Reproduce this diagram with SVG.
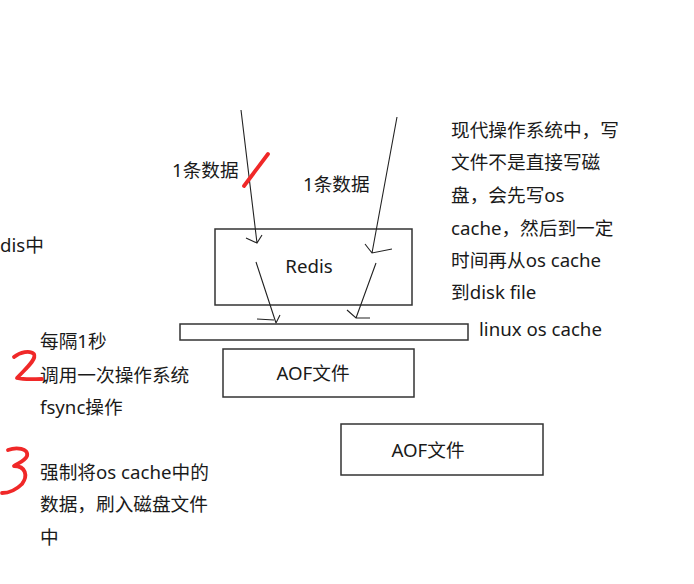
<svg xmlns="http://www.w3.org/2000/svg" width="694" height="584" viewBox="0 0 694 584">
<style>
.t{font-family:"Noto Sans","Noto Sans CJK SC",sans-serif;font-size:18.67px;fill:#1a1a1a}
.box{fill:#fff;stroke:#333;stroke-width:1.5}
.ln{fill:none;stroke:#222;stroke-width:1.1}
.red{fill:none;stroke:#f02828;stroke-width:3.8;stroke-linecap:round;stroke-linejoin:round}
</style>
<rect width="694" height="584" fill="#fff"/>
<g id="redis"><rect class="box" x="215" y="229" width="197" height="76"/><text class="t" x="309" y="273" text-anchor="middle">Redis</text></g>
<g id="oscache"><rect class="box" x="180" y="324" width="288" height="16"/><text class="t" x="479" y="336">linux os cache</text></g>
<g id="aof1"><rect class="box" x="223" y="349" width="191" height="48"/><text class="t" x="313" y="380" text-anchor="middle">AOF文件</text></g>
<g id="aof2"><rect class="box" x="341" y="424" width="202" height="51"/><text class="t" x="428" y="457" text-anchor="middle">AOF文件</text></g>
<g id="connectors">
<path class="ln" d="M241,110 L257,243 M246,238 L257,243 L262,235"/>
<path class="ln" d="M397,117 L372,253 M365,244 L372,253 L392,249"/>
<path class="ln" d="M256,262 L276,323 M257,319 L274,320 M276,323 L280,315"/>
<path class="ln" d="M376,263 L356,318 M347,310 L356,318 L370,318"/>
</g>
<g id="labels">
<text class="t" x="172" y="177">1条数据</text>
<text class="t" x="303" y="191">1条数据</text>
<text class="t" x="0" y="252">dis中</text>
<text class="t" x="451" y="137">现代操作系统中，写</text>
<text class="t" x="451" y="169">文件不是直接写磁</text>
<text class="t" x="451" y="202">盘，会先写os</text>
<text class="t" x="451" y="235">cache，然后到一定</text>
<text class="t" x="451" y="267">时间再从os cache</text>
<text class="t" x="451" y="299">到disk file</text>
<text class="t" x="40" y="348">每隔1秒</text>
<text class="t" x="40" y="382">调用一次操作系统</text>
<text class="t" x="40" y="414">fsync操作</text>
<text class="t" x="40" y="479">强制将os cache中的</text>
<text class="t" x="40" y="511">数据，刷入磁盘文件</text>
<text class="t" x="40" y="544">中</text>
</g>
<g id="marks">
<path class="red" d="M244,186 L268,154"/>
<path class="red" d="M14,357 C20,352 30,350 34,354 C37,360 24,370 17,378 C25,380 34,379 42,379"/>
<path class="red" d="M8,450 C16,447 29,448 27,456 C25,461 18,463 14,466 C26,466 28,476 22,484 C16,490 8,493 2,493"/>
</g>
</svg>
